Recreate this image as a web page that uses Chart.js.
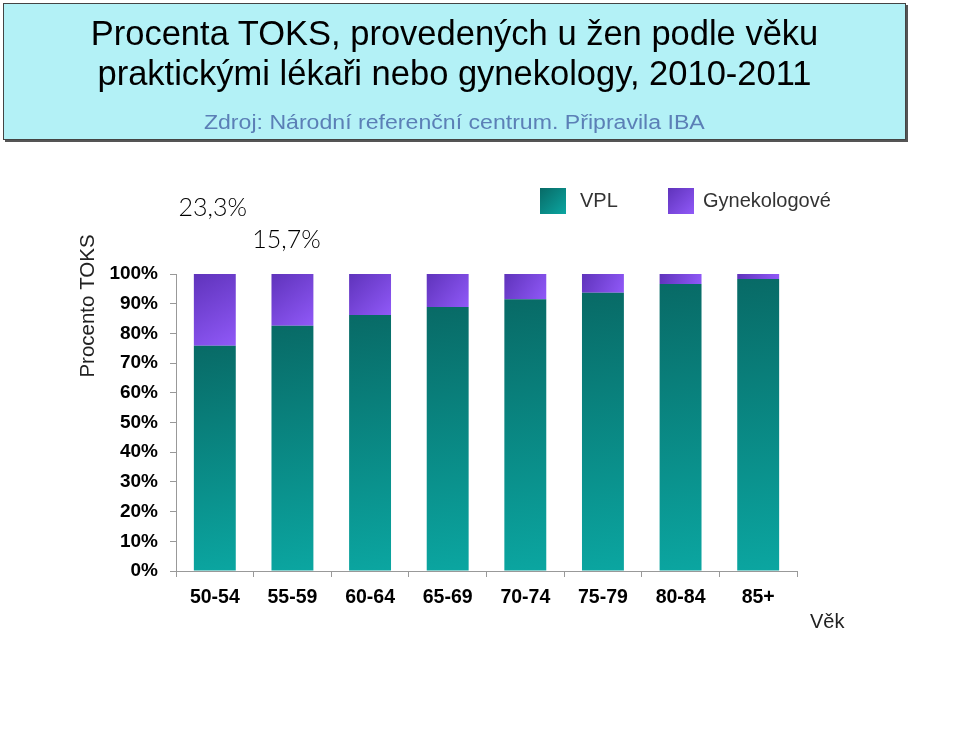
<!DOCTYPE html>
<html>
<head>
<meta charset="utf-8">
<script src="https://cdn.jsdelivr.net/npm/chart.js@4.4.1/dist/chart.umd.min.js"></script>
<style>
  html, body { margin: 0; padding: 0; background: #fff; }
  body { width: 959px; height: 737px; position: relative; overflow: hidden; font-family: 'Liberation Sans', Arial, sans-serif; }
  #head {
    position: absolute; left: 3px; top: 3px; width: 901px; height: 135px;
    background: #b3f1f6; border: 1px solid #444;
    box-shadow: 2px 2px 0 #555;
    text-align: center; z-index: 2;
  }
  #head .t { color: #000; font-size: 34.5px; line-height: 40px; white-space: nowrap; }
  #head .t1 { position: absolute; left: 0; right: 0; top: 9px; }
  #head .t2 { position: absolute; left: 0; right: 0; top: 49px; }
  #head .s { position: absolute; left: 0; right: 0; top: 106px; font-size: 19.5px; line-height: 24px; color: #5b7fb6; white-space: nowrap; }
  .wide { display: inline-block; transform: scaleX(1.185); }
  #wrap { position: absolute; left: 0; top: 0; width: 959px; height: 737px; }
</style>
</head>
<body>
<div id="head">
  <div class="t t1">Procenta TOKS, provedených u žen podle věku</div>
  <div class="t t2">praktickými lékaři nebo gynekology, 2010-2011</div>
  <div class="s"><span class="wide">Zdroj: Národní referenční centrum. Připravila IBA</span></div>
</div>
<div id="wrap"><canvas id="c" width="959" height="737"></canvas></div>
<script>
const AGE_GROUPS = ['50-54', '55-59', '60-64', '65-69', '70-74', '75-79', '80-84', '85+'];
const VPL  = [75.8, 82.6, 86.2, 88.9, 91.5, 93.7, 96.6, 98.3];
const GYN  = [24.2, 17.4, 13.8, 11.1, 8.5, 6.3, 3.4, 1.7];
const SERIES_NAMES = ['VPL', 'Gynekologové'];
const Y_TICKS_MAX = 100;
const CALLOUTS = ['23,3%', '15,7%'];

const TEAL = ['#086a66', '#0ba6a1'];
const PURPLE = ['#5f33bb', '#9059f8'];
const BAR_PCT = 0.54;

// gradient from top-left to bottom-right of each stacked segment
function segGradient(ctx, pair) {
  const chart = ctx.chart;
  const xs = chart.scales.x, ys = chart.scales.y;
  if (!chart.chartArea || !xs || !ys || ctx.dataIndex === undefined) return pair[1];
  const i = ctx.dataIndex;
  const w = (xs.width / AGE_GROUPS.length) * BAR_PCT;
  const cx = xs.getPixelForValue(i);
  let lo = 0;
  for (let d = 0; d < ctx.datasetIndex; d++) lo += chart.data.datasets[d].data[i];
  const hi = lo + chart.data.datasets[ctx.datasetIndex].data[i];
  const g = chart.ctx.createLinearGradient(cx - w / 2, ys.getPixelForValue(hi), cx + w / 2, ys.getPixelForValue(lo));
  g.addColorStop(0, pair[0]);
  g.addColorStop(1, pair[1]);
  return g;
}

const extras = {
  id: 'extras',
  afterDraw(chart) {
    const c = chart.ctx;
    c.save();
    // legend
    const items = [
      { x: 540, tx: 580, label: SERIES_NAMES[0], col: TEAL },
      { x: 668, tx: 703, label: SERIES_NAMES[1], col: PURPLE },
    ];
    items.forEach(it => {
      const g = c.createLinearGradient(it.x, 188, it.x + 26, 214);
      g.addColorStop(0, it.col[0]);
      g.addColorStop(1, it.col[1]);
      c.fillStyle = g;
      c.fillRect(it.x, 188, 26, 26);
      c.fillStyle = '#333';
      c.font = '20px "Liberation Sans", Arial, sans-serif';
      c.textBaseline = 'middle';
      c.textAlign = 'left';
      c.fillText(it.label, it.tx, 201);
    });

    // callouts above first bars
    const meta = chart.getDatasetMeta(1);
    c.fillStyle = '#000';
    c.font = '300 25px Lato, "DejaVu Sans", sans-serif';
    c.textAlign = 'center';
    c.fillText(CALLOUTS[0], meta.data[0].x - 2, 208);
    c.fillText(CALLOUTS[1], meta.data[1].x - 6, 240);

    // axis titles
    c.fillStyle = '#222';
    c.font = '20px "Liberation Sans", Arial, sans-serif';
    c.textAlign = 'left';
    c.fillText('Věk', 810, 622);
    c.font = '20.5px "Liberation Sans", Arial, sans-serif';
    c.translate(88, 306);
    c.rotate(-Math.PI / 2);
    c.textAlign = 'center';
    c.fillText('Procento TOKS', 0, 0);
    c.restore();
  }
};

new Chart(document.getElementById('c'), {
  type: 'bar',
  data: {
    labels: AGE_GROUPS,
    datasets: [
      { label: SERIES_NAMES[0], data: VPL, backgroundColor: ctx => segGradient(ctx, TEAL) },
      { label: SERIES_NAMES[1], data: GYN, backgroundColor: ctx => segGradient(ctx, PURPLE) },
    ]
  },
  options: {
    responsive: false,
    animation: false,
    datasets: { bar: { barPercentage: BAR_PCT, categoryPercentage: 1, borderWidth: 0 } },
    layout: { padding: { left: 0, top: 274, right: 162, bottom: 0 } },
    plugins: { legend: { display: false }, tooltip: { enabled: false } },
    scales: {
      x: {
        stacked: true,
        afterFit: s => { s.height = 166; },
        grid: { drawOnChartArea: false, color: '#999', tickLength: 6 },
        border: { color: '#999' },
        ticks: { color: '#000', padding: 9, font: { family: '"Liberation Sans", Arial', size: 19.5, weight: 'bold' } }
      },
      y: {
        stacked: true,
        min: 0, max: Y_TICKS_MAX,
        afterFit: s => { s.width = 176; },
        grid: { drawOnChartArea: false, color: '#999', tickLength: 6 },
        border: { color: '#999' },
        ticks: {
          stepSize: 10, color: '#000', padding: 12,
          font: { family: '"Liberation Sans", Arial', size: 19, weight: 'bold' },
          callback: v => v + '%'
        }
      }
    }
  },
  plugins: [extras]
});
</script>
</body>
</html>
